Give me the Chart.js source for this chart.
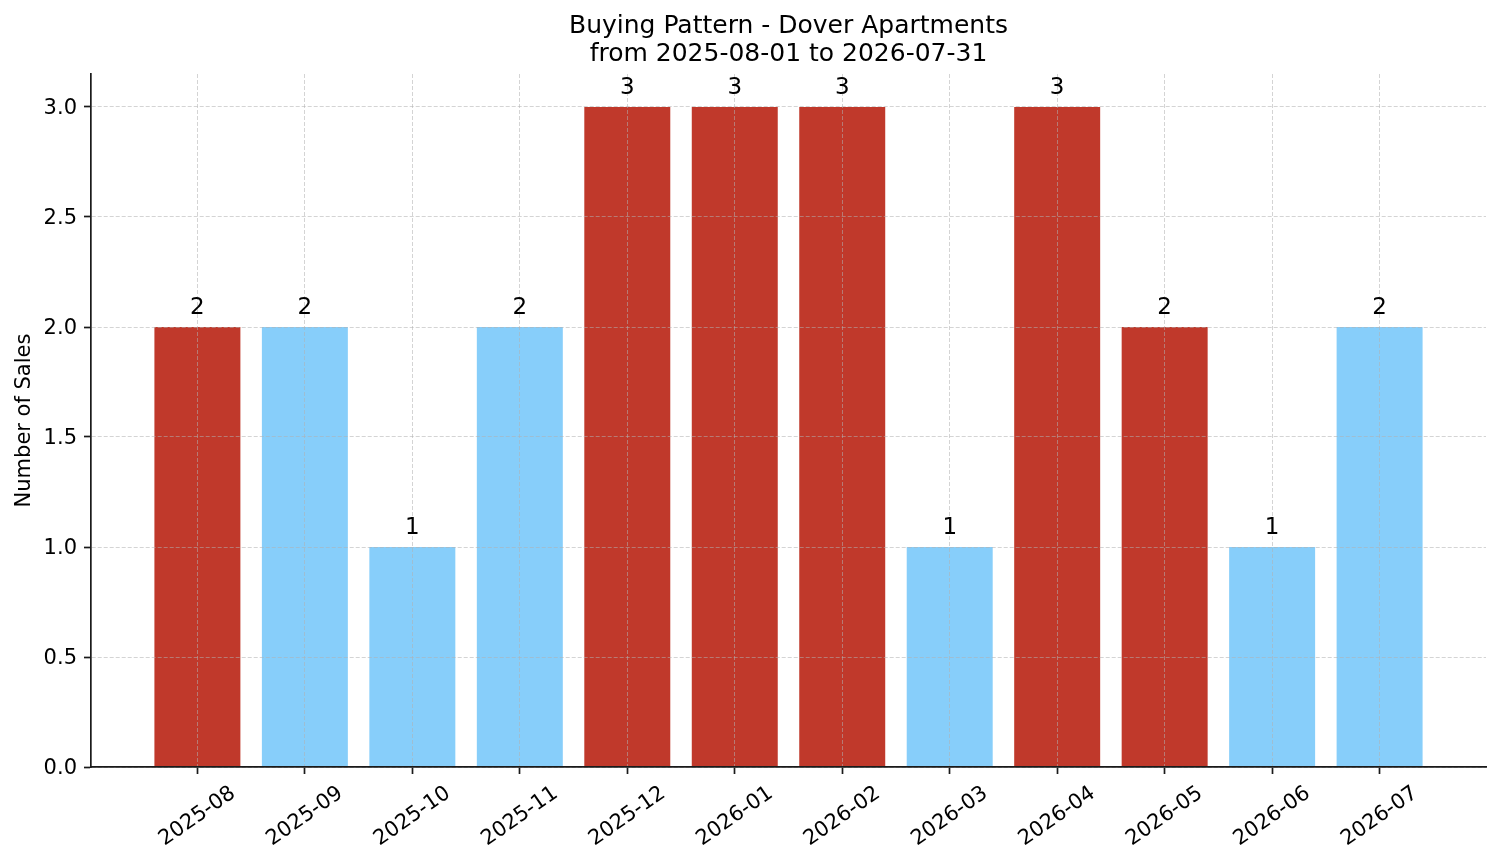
<!DOCTYPE html>
<html>
<head>
<meta charset="utf-8">
<script src="https://cdn.jsdelivr.net/npm/chart.js@4.4.1/dist/chart.umd.min.js"></script>
<style>
  html, body { margin: 0; padding: 0; background: #ffffff; }
  #wrap { width: 1501px; height: 863px; position: relative; }
</style>
</head>
<body>
<div id="wrap"><canvas id="c"></canvas></div>
<script>
// ---- data ----
const months = ['2025-08','2025-09','2025-10','2025-11','2025-12','2026-01','2026-02','2026-03','2026-04','2026-05','2026-06','2026-07'];
const sales = [2, 2, 1, 2, 3, 3, 3, 1, 3, 2, 1, 2];
const highlighted = [true, false, false, false, true, true, true, false, true, true, false, false];
const yTickValues = [0, 0.5, 1.0, 1.5, 2.0, 2.5, 3.0];
const titleLines = ['Buying Pattern - Dover Apartments', 'from 2025-08-01 to 2026-07-31'];
const yAxisTitle = 'Number of Sales';

// ---- styling ----
const RED = '#c0392b';
const BLUE = '#87cefa';
const FONT = '"DejaVu Sans", sans-serif';
const GRID = 'rgba(176,176,176,0.55)';
const SPINE = '#1a1a1a';
const ROT = 35;

// label offset so rotated labels are centred on their tick
const mc = document.createElement('canvas').getContext('2d');
mc.font = '21px ' + FONT;
const tickW = mc.measureText(months[0]).width;
const xLabelOffset = tickW / 2 * Math.cos(ROT * Math.PI / 180);

const valueLabels = {
  id: 'valueLabels',
  afterDraw(chart) {
    const ctx = chart.ctx;
    const meta = chart.getDatasetMeta(0);
    const ys = chart.scales.y;
    ctx.save();
    ctx.font = '23px ' + FONT;
    ctx.fillStyle = '#000';
    ctx.textAlign = 'center';
    ctx.textBaseline = 'alphabetic';
    meta.data.forEach((el, i) => {
      const v = sales[i];
      ctx.fillText(String(v), el.x, ys.getPixelForValue(v) - 13);
    });
    ctx.restore();
  }
};

new Chart(document.getElementById('c'), {
  type: 'bar',
  data: {
    datasets: [{
      data: sales.map((v, i) => ({ x: i, y: v })),
      backgroundColor: highlighted.map(h => h ? RED : BLUE),
      borderWidth: 0,
      barPercentage: 0.8,
      categoryPercentage: 1.0
    }]
  },
  options: {
    responsive: true,
    maintainAspectRatio: false,
    animation: false,
    devicePixelRatio: 1,
    layout: { padding: { left: 0, right: 15, top: 0, bottom: 0 } },
    plugins: {
      legend: { display: false },
      tooltip: { enabled: false },
      title: {
        display: true,
        fullSize: false,
        text: titleLines,
        color: '#000',
        font: { family: FONT, size: 25, weight: 'normal', lineHeight: 1.1 },
        padding: { top: 13, bottom: 6 }
      }
    },
    scales: {
      x: {
        type: 'linear',
        min: -0.99,
        max: 11.99,
        offset: false,
        afterBuildTicks: (s) => { s.ticks = months.map((m, i) => ({ value: i })); },
        afterFit: (s) => { s.height = 96; },
        ticks: {
          autoSkip: false,
          minRotation: ROT,
          maxRotation: ROT,
          labelOffset: xLabelOffset,
          padding: 7,
          color: '#000',
          font: { family: FONT, size: 21 },
          callback: (v) => months[v]
        },
        grid: {
          z: 1,
          offset: false,
          color: GRID,
          lineWidth: 1,
          drawTicks: true,
          tickLength: 7,
          tickColor: SPINE,
          tickWidth: 1.7,
          tickBorderDash: []
        },
        border: { display: true, color: SPINE, width: 1.7, dash: [4, 2], z: 2 }
      },
      y: {
        min: 0,
        max: 3.15,
        afterBuildTicks: (s) => { s.ticks = yTickValues.map(v => ({ value: v })); },
        afterFit: (s) => { s.width = 91; },
        ticks: {
          padding: 7,
          labelOffset: 2,
          color: '#000',
          font: { family: FONT, size: 21 },
          callback: (v) => Number(v).toFixed(1)
        },
        grid: {
          z: 1,
          color: GRID,
          lineWidth: 1,
          drawTicks: true,
          tickLength: 7,
          tickColor: SPINE,
          tickWidth: 1.7,
          tickBorderDash: []
        },
        border: { display: true, color: SPINE, width: 1.7, dash: [4, 2], z: 2 },
        title: {
          display: true,
          text: yAxisTitle,
          color: '#000',
          font: { family: FONT, size: 21 },
          padding: { top: 12, bottom: 0 }
        }
      }
    }
  },
  plugins: [valueLabels]
});
</script>
</body>
</html>
